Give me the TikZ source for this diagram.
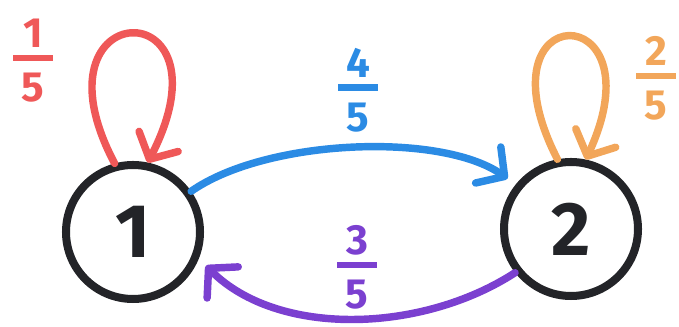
\documentclass[tikz,border=0pt]{standalone}
\usepackage{fontspec}
\setmainfont{Fira Sans}
\usetikzlibrary{arrows.meta}

\definecolor{ink}{HTML}{232428}
\definecolor{loopred}{HTML}{EF5858}
\definecolor{looporange}{HTML}{F2A65A}
\definecolor{edgeblue}{HTML}{2B8BE4}
\definecolor{edgepurple}{HTML}{7B40D0}

% fraction drawn as digit, bar, digit
\newcommand{\prob}[2]{\vbox{\offinterlineskip\halign{\hfil##\hfil\cr#1\cr\noalign{\kern5pt}\rule{1cm}{4.5pt}\cr\noalign{\kern8.5pt}#2\cr}}}

\begin{document}
\begin{tikzpicture}[
    state/.style={circle, draw=ink, text=ink, line width=5.7pt, minimum size=3.35cm,
      inner sep=0pt, font=\fontsize{54}{54}\selectfont\bfseries},
    chain/.style={line width=5.3pt, line cap=round,
      -{Straight Barb[length=5mm,width=11mm,round]}},
    label/.style={inner sep=0pt, font=\fontsize{30}{30}\selectfont\bfseries}]
  \useasboundingbox (0,0) rectangle (16.975,8.175);

  % states
  \node[state] (n1) at (3.325,2.375) {1};
  \node[state] (n2) at (14.275,2.45) {2};

  % self loops
  \draw[chain,loopred] (n1.105) .. controls +(-2.25,4.25) and +(2.25,4.375) .. (n1.78);
  \draw[chain,looporange] (n2.101) .. controls +(-2.1,4.1) and +(1.9,4.1) .. (n2.78);

  % between the states
  \draw[chain,edgeblue,shorten >=0.25cm] (n1.35) to[out=35,in=145,looseness=0.72] (n2.141);
  \draw[chain,edgepurple,shorten >=0.25cm] (n2.-142) to[out=-147,in=-45,looseness=0.9] (n1.-22);

  % probabilities
  \node[label,loopred] (p11) at (0.825,6.66) {\prob{1}{5}};
  \node[label,looporange] (p22) at (16.4,6.21) {\prob{2}{5}};
  \node[label,edgeblue] (p12) at (8.95,5.925) {\prob{4}{5}};
  \node[label,edgepurple] (p21) at (8.925,1.49) {\prob{3}{5}};
\end{tikzpicture}
\end{document}
